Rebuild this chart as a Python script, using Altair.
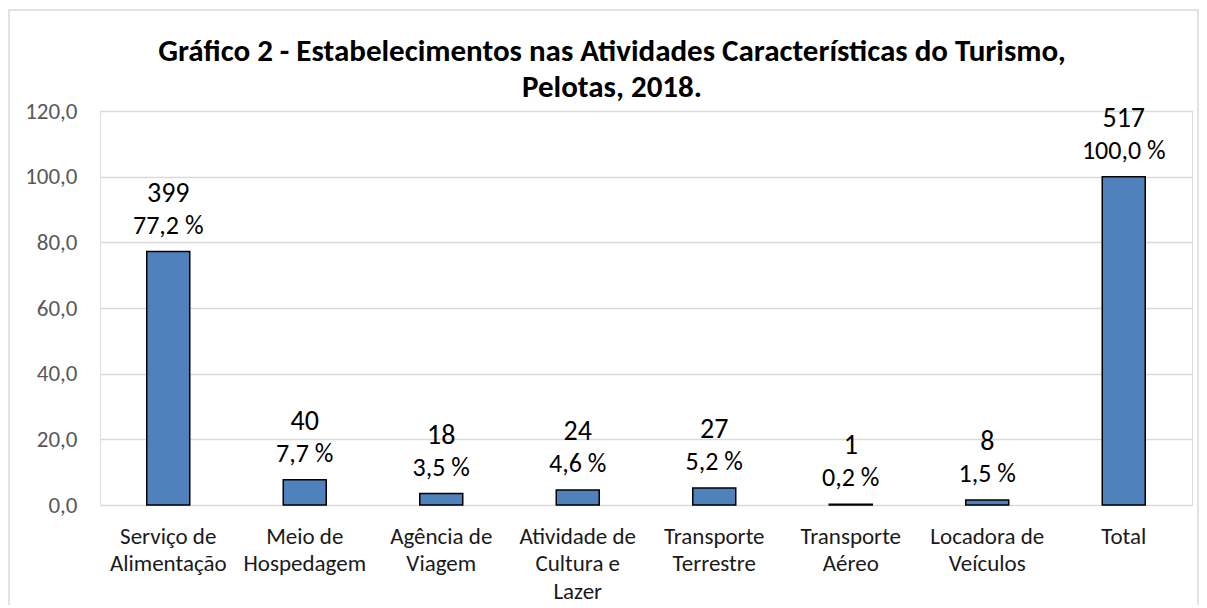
import altair as alt
import pandas as pd

title_lines = [
    "Gráfico 2 - Estabelecimentos nas Atividades Características do Turismo,",
    "Pelotas, 2018.",
]
categories = [
    "Serviço de\nAlimentação",
    "Meio de\nHospedagem",
    "Agência de\nViagem",
    "Atividade de\nCultura e\nLazer",
    "Transporte\nTerrestre",
    "Transporte\nAéreo",
    "Locadora de\nVeículos",
    "Total",
]
counts = [399, 40, 18, 24, 27, 1, 8, 517]
percents = [77.2, 7.7, 3.5, 4.6, 5.2, 0.2, 1.5, 100.0]
y_ticks = [0, 20, 40, 60, 80, 100, 120]

df = pd.DataFrame({
    "cat": categories,
    "count": [str(c) for c in counts],
    "pct": percents,
    "pct_label": [f"{p:.1f}".replace(".", ",") + " %" for p in percents],
})

FONT = "Carlito, Lato, Liberation Sans, sans-serif"

x_enc = alt.X(
    "cat:N",
    sort=categories,
    scale=alt.Scale(paddingInner=0.685, paddingOuter=0.3425),
    axis=alt.Axis(
        title=None,
        labelAngle=0,
        labelExpr="split(datum.label, '\\n')",
        labelFontSize=23,
        labelColor="#1A1A1A",
        labelFont=FONT,
        labelPadding=20,
        labelLineHeight=27.5,
        ticks=False,
        domain=False,
        labelLimit=300,
    ),
)
y_enc = alt.Y(
    "pct:Q",
    scale=alt.Scale(domain=[0, 120], nice=False),
    axis=alt.Axis(
        title=None,
        values=y_ticks,
        labelExpr="replace(format(datum.value, '.1f'), '.', ',')",
        labelFontSize=23,
        labelColor="#595959",
        labelFont=FONT,
        labelPadding=23,
        ticks=False,
        domain=False,
        gridColor="#D9D9D9",
        gridWidth=1.3,
    ),
)

base = alt.Chart(df)

bars = base.mark_bar(fill="#4F81BD", stroke="#000000", strokeWidth=1.5).encode(x=x_enc, y=y_enc)

count_text = base.mark_text(
    fontSize=28, font=FONT, color="#000000", baseline="middle", dy=-58
).encode(x=alt.X("cat:N", sort=categories), y="pct:Q", text="count:N")

pct_text = base.mark_text(
    fontSize=26, font=FONT, color="#000000", baseline="middle", dy=-26
).encode(x=alt.X("cat:N", sort=categories), y="pct:Q", text="pct_label:N")

border = alt.Chart(alt.Data(values=[{}])).mark_rect(
    fill=None, stroke="#D9D9D9", strokeWidth=1.5
).encode(
    x=alt.value(-91), x2=alt.value(1098), y=alt.value(-101), y2=alt.value(700)
)

one = alt.Data(values=[{}])
title1 = alt.Chart(one).mark_text(
    fontSize=31, font=FONT, fontWeight="bold", color="#000000", baseline="alphabetic", align="center"
).encode(x=alt.value(512), y=alt.value(-50), text=alt.value(title_lines[0]))
title2 = alt.Chart(one).mark_text(
    fontSize=31, font=FONT, fontWeight="bold", color="#000000", baseline="alphabetic", align="center"
).encode(x=alt.value(512), y=alt.value(-14), text=alt.value(title_lines[1]))

chart = alt.layer(border, bars, count_text, pct_text, title1, title2).properties(
    width=1092,
    height=394,
    autosize=alt.AutoSizeParams(type="none"),
    padding={"left": 92, "top": 103, "right": 7, "bottom": 100},
).configure_view(stroke=None).configure(background="white")

chart.save("out.html", embed_options={"renderer": "svg", "actions": False})
